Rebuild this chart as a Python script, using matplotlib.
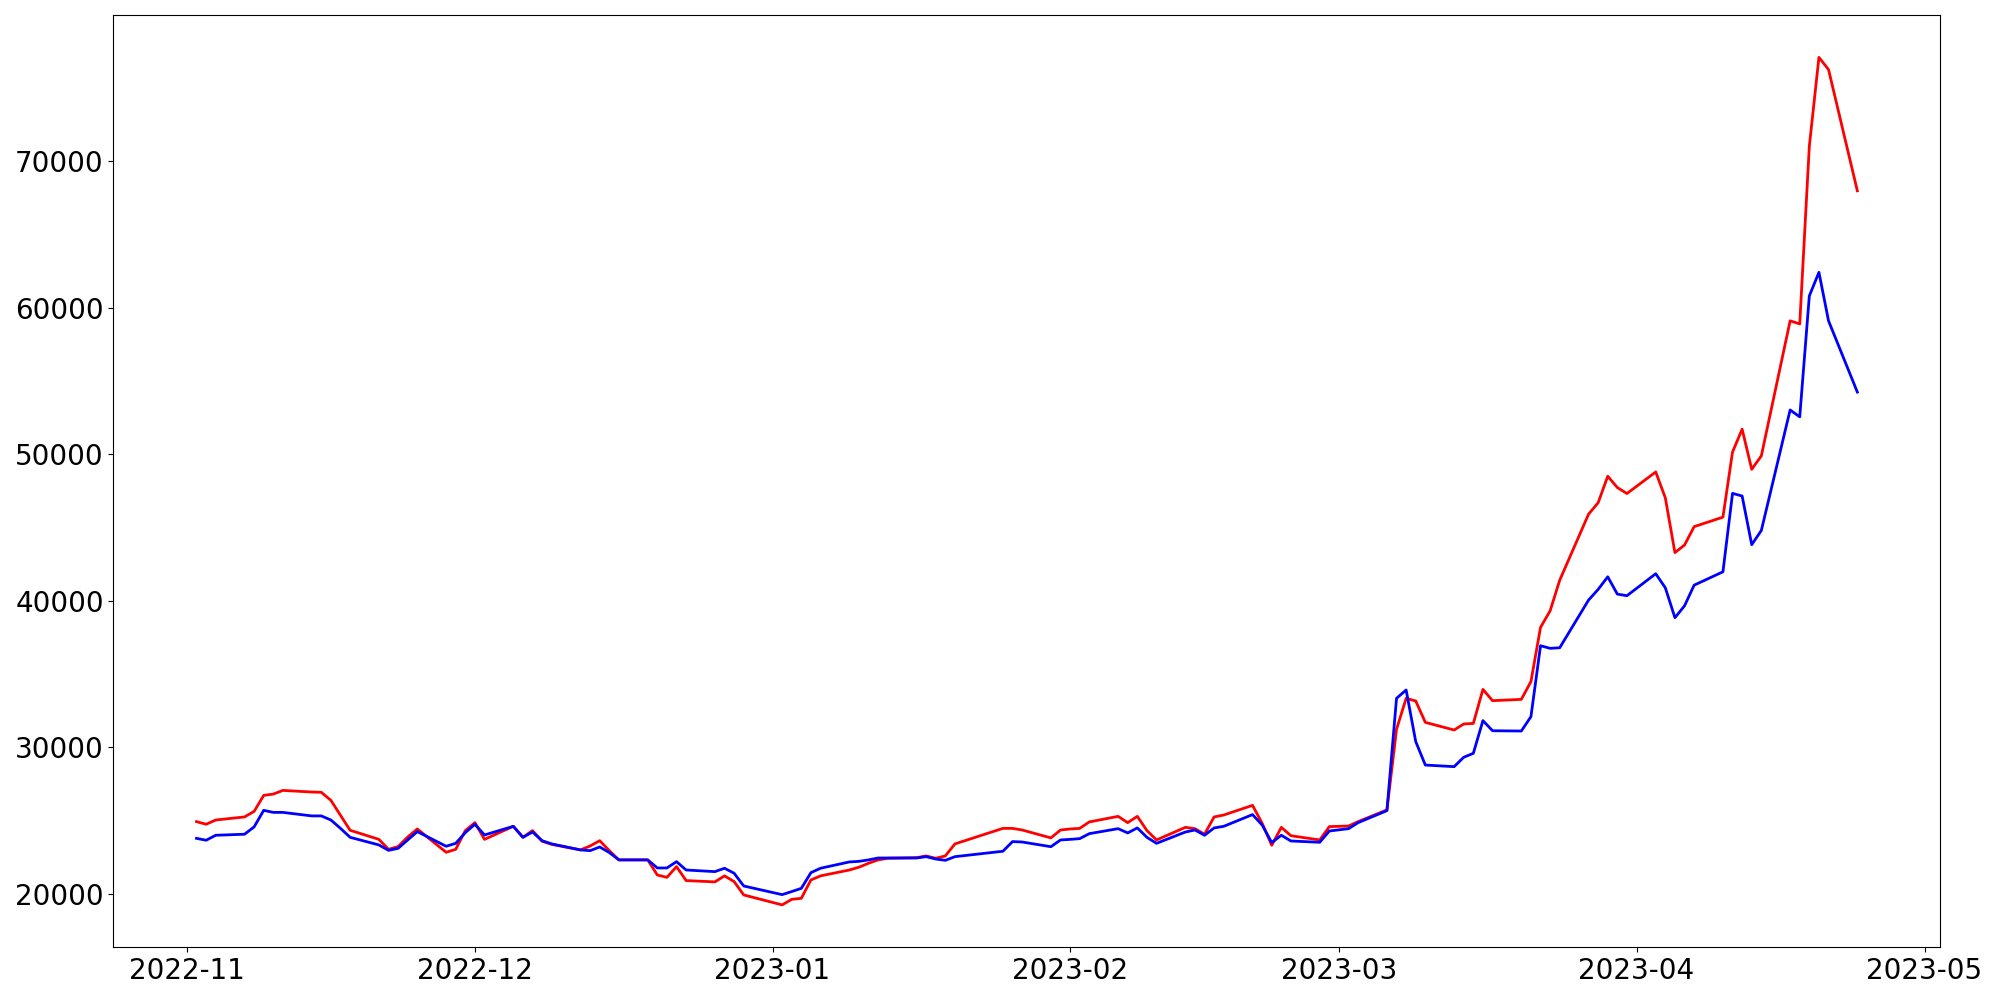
import numpy as np
import pandas as pd
import matplotlib
matplotlib.use("Agg")
import matplotlib.pyplot as plt

# trading days (KRX calendar, holidays closed)
holidays = ["2022-12-30", "2023-01-23", "2023-01-24", "2023-03-01"]
dates = pd.bdate_range("2022-11-02", "2023-04-24", freq="C", holidays=holidays)

red_values = [
    # Nov
    24940, 24760, 25050, 25260, 25640, 26730, 26820, 27070, 26960, 26940, 26390,
    25370, 24350, 23730, 23050, 23240, 23890, 24440, 22850, 23050, 24330,
    # Dec
    24870, 23730, 24620, 23870, 24330, 23600, 23390, 23010, 23280, 23640, 22960,
    22330, 22330, 21300, 21140, 21870, 20920, 20830, 21240, 20850, 19940,
    # Jan
    19260, 19640, 19710, 20960, 21240, 21640, 21830, 22100, 22330, 22440,
    22480, 22600, 22440, 22600, 23420, 24480, 24480, 24370, 23830, 24370,
    # Feb
    24440, 24480, 24920, 25300, 24870, 25300, 24330, 23690, 24550, 24460,
    24080, 25260, 25390, 26050, 24830, 23330, 24550, 23980, 23690, 24600,
    # Mar
    24640, 24940, 25740, 31240, 33350, 33170, 31710, 31190, 31600, 31640, 33960,
    33190, 33280, 34490, 38190, 39320, 41410, 45910, 46690, 48500, 47730, 47320,
    # Apr
    48790, 47020, 43290, 43810, 45060, 45710, 50150, 51710, 48970, 49890,
    59100, 58890, 71020, 77070, 76240, 67970,
]

blue_values = [
    # Nov
    23800, 23670, 24010, 24080, 24580, 25710, 25570, 25570, 25330, 25330, 25050,
    24480, 23870, 23350, 22980, 23120, 23690, 24260, 23260, 23460, 24190,
    # Dec
    24760, 24030, 24620, 23870, 24230, 23640, 23420, 23010, 22960, 23210, 22830,
    22330, 22330, 21780, 21780, 22210, 21640, 21530, 21760, 21420, 20550,
    # Jan
    19960, 20170, 20390, 21460, 21760, 22190, 22230, 22330, 22460, 22460,
    22460, 22550, 22390, 22300, 22550, 22920, 23580, 23550, 23230, 23690,
    # Feb
    23730, 23780, 24120, 24460, 24170, 24510, 23870, 23460, 24230, 24370,
    24010, 24510, 24620, 25420, 24710, 23510, 24010, 23620, 23530, 24300,
    # Mar
    24460, 24870, 25690, 33350, 33920, 30400, 28800, 28690, 29330, 29600, 31830,
    31140, 31120, 32100, 36940, 36760, 36800, 40050, 40780, 41640, 40460, 40350,
    # Apr
    41850, 40890, 38850, 39660, 41070, 41980, 47330, 47150, 43830, 44800,
    53020, 52550, 60800, 62410, 59100, 54240,
]

plt.figure(figsize=(20, 10), dpi=100)
plt.plot(dates, red_values, color="red", linewidth=2)
plt.plot(dates, blue_values, color="blue", linewidth=2)
plt.xticks(fontsize=20)
plt.yticks(fontsize=20)
plt.tight_layout()
plt.savefig("out.png")
